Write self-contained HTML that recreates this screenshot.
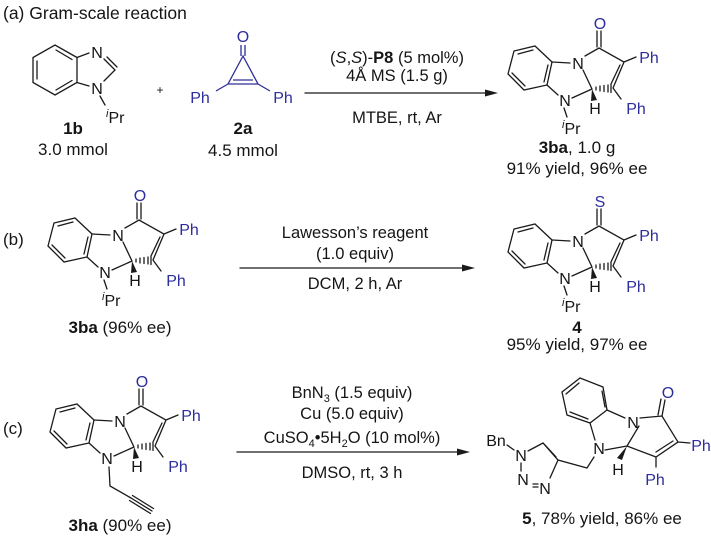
<!DOCTYPE html>
<html><head><meta charset="utf-8"><style>
html,body{margin:0;padding:0;background:#fff}
svg{display:block}
text{font-family:"Liberation Sans",Arial,sans-serif;fill:#151515}
.b{stroke:#1a1a1a;stroke-width:1.3;fill:none;stroke-linecap:round}
.bl{fill:#2d2d9c}
.blb{stroke:#2d2d9c;stroke-width:1.3;fill:none}
.a{font-size:16px}
.c{font-size:16.5px}
.k{font-size:17px}
</style></head><body>
<svg width="711" height="545" viewBox="0 0 711 545" xmlns="http://www.w3.org/2000/svg">
<text x="3" y="19" font-size="17.5">(a) Gram-scale reaction</text>

<!-- 1b -->
<g>
<path class="b" d="M77,57.5 L55,45 L33,57.5 L33,82.5 L55,95 L77,82.5 Z"/>
<path class="b" d="M37,61 L37,79 M56,50 L72,59.5 M56,90 L72,80.5"/>
<path class="b" d="M77,57.5 L89,53 M77,82.5 L89,86 M104,59 L115,70 L104,81 M107,57 L117,67 M100,96 L105,105"/>
<text x="97" y="58" class="a" text-anchor="middle">N</text>
<text x="97" y="94" class="a" text-anchor="middle">N</text>
<text x="106" y="123" class="a"><tspan font-size="11" font-style="italic" dy="-6">i</tspan><tspan dy="6">Pr</tspan></text>
<text x="73" y="134" class="k" font-weight="bold" text-anchor="middle">1b</text>
<text x="73" y="155" class="k" text-anchor="middle">3.0 mmol</text>
</g>
<text x="160" y="94" font-size="12" text-anchor="middle">+</text>

<!-- 2a -->
<g>
<text x="243" y="42" class="a bl" text-anchor="middle">O</text>
<path class="blb" d="M241,45 L241,56 M245,45 L245,56 M243,56 L228,84 L258,84 Z M233,80 L253,80 M228,84 L216,91 M258,84 L270,91"/>
<text x="200" y="103" class="a bl" text-anchor="middle">Ph</text>
<text x="283" y="103" class="a bl" text-anchor="middle">Ph</text>
<text x="243" y="134" class="k" font-weight="bold" text-anchor="middle">2a</text>
<text x="243" y="156" class="k" text-anchor="middle">4.5 mmol</text>
</g>

<!-- arrow a -->
<text x="397" y="63" class="c" text-anchor="middle">(<tspan font-style="italic">S</tspan>,<tspan font-style="italic">S</tspan>)-<tspan font-weight="bold">P8</tspan> (5 mol%)</text>
<text x="397" y="81" class="c" text-anchor="middle">4Å MS (1.5 g)</text>
<path class="b" d="M305,93 L486,93"/>
<polygon points="498,93 485,89.5 485,96.5" fill="#1a1a1a"/>
<text x="397" y="123" class="c" text-anchor="middle">MTBE, rt, Ar</text>

<!-- 3ba product (a) -->
<g>
<path class="b" d="M535,46 L552,62 L547,85 L524,90 L508,74 L514,51 Z"/>
<path class="b" d="M518,54 L533,50 M548,65 L544,82 M525,86 L512,73"/>
<path class="b" d="M552,62 L570,63 M547,85 L558,95 M583,70 L592,89 M572,98 L592,89 M585,56 L599,48 L624,62 L613,88 M620,65 L611,84 M624,62 L636,57 M613,88 L621,99"/>
<path class="b" d="M596,87 L596,90 M600,86 L600,91 M604,85.5 L604,91.5 M608,85 L608,92 M611,84.5 L611,92.5"/>
<polygon points="592,89 591,101 597,100" fill="#1a1a1a"/>
<text x="578" y="69" class="a" text-anchor="middle">N</text>
<text x="565" y="106" class="a" text-anchor="middle">N</text>
<text x="595" y="114" class="a" text-anchor="middle">H</text>
<text x="649" y="63" class="a bl" text-anchor="middle">Ph</text>
<text x="636" y="114" class="a bl" text-anchor="middle">Ph</text>
<path class="b" d="M597,47 L597,31 M601,47 L601,31"/>
<text x="600" y="29" class="a bl" text-anchor="middle">O</text>
<path class="b" d="M564,108 L567,117"/>
<text x="562" y="134" class="a"><tspan font-size="11" font-style="italic" dy="-6">i</tspan><tspan dy="6">Pr</tspan></text>
</g>
<text x="577" y="153" class="k" text-anchor="middle"><tspan font-weight="bold">3ba</tspan>, 1.0 g</text>
<text x="577" y="174" class="k" text-anchor="middle">91% yield, 96% ee</text>

<!-- (b) -->
<text x="3" y="245" class="k">(b)</text>
<g transform="translate(-460,172)">
<path class="b" d="M535,46 L552,62 L547,85 L524,90 L508,74 L514,51 Z"/>
<path class="b" d="M518,54 L533,50 M548,65 L544,82 M525,86 L512,73"/>
<path class="b" d="M552,62 L570,63 M547,85 L558,95 M583,70 L592,89 M572,98 L592,89 M585,56 L599,48 L624,62 L613,88 M620,65 L611,84 M624,62 L636,57 M613,88 L621,99"/>
<path class="b" d="M596,87 L596,90 M600,86 L600,91 M604,85.5 L604,91.5 M608,85 L608,92 M611,84.5 L611,92.5"/>
<polygon points="592,89 591,101 597,100" fill="#1a1a1a"/>
<text x="578" y="69" class="a" text-anchor="middle">N</text>
<text x="565" y="106" class="a" text-anchor="middle">N</text>
<text x="595" y="114" class="a" text-anchor="middle">H</text>
<text x="649" y="63" class="a bl" text-anchor="middle">Ph</text>
<text x="636" y="114" class="a bl" text-anchor="middle">Ph</text>
<path class="b" d="M597,47 L597,31 M601,47 L601,31"/>
<text x="600" y="29" class="a bl" text-anchor="middle">O</text>
<path class="b" d="M564,108 L567,117"/>
<text x="562" y="134" class="a"><tspan font-size="11" font-style="italic" dy="-6">i</tspan><tspan dy="6">Pr</tspan></text>
</g>
<text x="120" y="333" class="k" text-anchor="middle"><tspan font-weight="bold">3ba</tspan> (96% ee)</text>

<text x="355" y="238" class="c" text-anchor="middle">Lawesson’s reagent</text>
<text x="355" y="259" class="c" text-anchor="middle">(1.0 equiv)</text>
<path class="b" d="M240,268 L463,268"/>
<polygon points="475,268 462,264.5 462,271.5" fill="#1a1a1a"/>
<text x="355" y="289" class="c" text-anchor="middle">DCM, 2 h, Ar</text>

<g transform="translate(0,178)">
<path class="b" d="M535,46 L552,62 L547,85 L524,90 L508,74 L514,51 Z"/>
<path class="b" d="M518,54 L533,50 M548,65 L544,82 M525,86 L512,73"/>
<path class="b" d="M552,62 L570,63 M547,85 L558,95 M583,70 L592,89 M572,98 L592,89 M585,56 L599,48 L624,62 L613,88 M620,65 L611,84 M624,62 L636,57 M613,88 L621,99"/>
<path class="b" d="M596,87 L596,90 M600,86 L600,91 M604,85.5 L604,91.5 M608,85 L608,92 M611,84.5 L611,92.5"/>
<polygon points="592,89 591,101 597,100" fill="#1a1a1a"/>
<text x="578" y="69" class="a" text-anchor="middle">N</text>
<text x="565" y="106" class="a" text-anchor="middle">N</text>
<text x="595" y="114" class="a" text-anchor="middle">H</text>
<text x="649" y="63" class="a bl" text-anchor="middle">Ph</text>
<text x="636" y="114" class="a bl" text-anchor="middle">Ph</text>
<path class="b" d="M597,47 L597,31 M601,47 L601,31"/>
<text x="600" y="29" class="a bl" text-anchor="middle">S</text>
<path class="b" d="M564,108 L567,117"/>
<text x="562" y="134" class="a"><tspan font-size="11" font-style="italic" dy="-6">i</tspan><tspan dy="6">Pr</tspan></text>
</g>
<text x="577" y="333" class="k" font-weight="bold" text-anchor="middle">4</text>
<text x="577" y="350" class="k" text-anchor="middle">95% yield, 97% ee</text>

<!-- (c) -->
<text x="3" y="434" class="k">(c)</text>
<g transform="translate(-458,358)">
<path class="b" d="M535,46 L552,62 L547,85 L524,90 L508,74 L514,51 Z"/>
<path class="b" d="M518,54 L533,50 M548,65 L544,82 M525,86 L512,73"/>
<path class="b" d="M552,62 L570,63 M547,85 L558,95 M583,70 L592,89 M572,98 L592,89 M585,56 L599,48 L624,62 L613,88 M620,65 L611,84 M624,62 L636,57 M613,88 L621,99"/>
<path class="b" d="M596,87 L596,90 M600,86 L600,91 M604,85.5 L604,91.5 M608,85 L608,92 M611,84.5 L611,92.5"/>
<polygon points="592,89 591,101 597,100" fill="#1a1a1a"/>
<text x="578" y="69" class="a" text-anchor="middle">N</text>
<text x="565" y="106" class="a" text-anchor="middle">N</text>
<text x="595" y="114" class="a" text-anchor="middle">H</text>
<text x="649" y="63" class="a bl" text-anchor="middle">Ph</text>
<text x="636" y="114" class="a bl" text-anchor="middle">Ph</text>
<path class="b" d="M597,47 L597,31 M601,47 L601,31"/>
<text x="600" y="29" class="a bl" text-anchor="middle">O</text>
</g>
<path class="b" d="M109,467 L110,486 L131,498 M131,498 L152,511 M132.5,495.5 L153.5,508.5 M129.5,500.5 L150.5,513.5"/>
<text x="120" y="531" class="k" text-anchor="middle"><tspan font-weight="bold">3ha</tspan> (90% ee)</text>

<text x="352" y="398" class="c" text-anchor="middle">BnN<tspan font-size="11" dy="4">3</tspan><tspan dy="-4"> (1.5 equiv)</tspan></text>
<text x="352" y="419" class="c" text-anchor="middle">Cu (5.0 equiv)</text>
<text x="352" y="443" class="c" text-anchor="middle">CuSO<tspan font-size="11" dy="4">4</tspan><tspan dy="-4">•5H</tspan><tspan font-size="11" dy="4">2</tspan><tspan dy="-4">O (10 mol%)</tspan></text>
<path class="b" d="M237,452 L458,452"/>
<polygon points="470,452 457,448.5 457,455.5" fill="#1a1a1a"/>
<text x="352" y="478" class="c" text-anchor="middle">DMSO, rt, 3 h</text>

<!-- product 5 -->
<g>
<path class="b" d="M580,378 L603,387 L607,410 L590,423 L567,415 L562,392 Z"/>
<path class="b" d="M566,394 L579,383 M602,391 L605,407 M588,419 L570,412"/>
<path class="b" d="M607,410 L625,418 M590,423 L595,440 M639,426 L627,446 M605,450 L627,446 M640,418 L662,416 L678,442 L656,457 L627,446 M673,441 L656,452 M678,442 L690,443 M656,457 L656,467"/>
<path class="b" d="M662,416 L665,400 M658,415 L661,399"/>
<polygon points="627,446 617,458 622,460" fill="#1a1a1a"/>
<text x="633" y="428" class="a" text-anchor="middle">N</text>
<text x="599" y="454" class="a" text-anchor="middle">N</text>
<text x="618" y="475" class="a" text-anchor="middle">H</text>
<text x="668" y="398" class="a bl" text-anchor="middle">O</text>
<text x="701" y="451" class="a bl" text-anchor="middle">Ph</text>
<text x="655" y="485" class="a bl" text-anchor="middle">Ph</text>
<path class="b" d="M594,457 L587,468 L558,460 L543,443 L528,451 M556,457 L544,444 M558,460 L550,478 M521,463 L521,471 M507,445 L514,450 M533,484 L538,484 M533,487 L538,487"/>
<text x="496" y="446" class="a" text-anchor="middle">Bn</text>
<text x="521" y="461" class="a" text-anchor="middle">N</text>
<text x="523" y="485" class="a" text-anchor="middle">N</text>
<text x="545" y="494" class="a" text-anchor="middle">N</text>
</g>
<text x="602" y="524" class="k" text-anchor="middle"><tspan font-weight="bold">5</tspan>, 78% yield, 86% ee</text>
</svg>
</body></html>
